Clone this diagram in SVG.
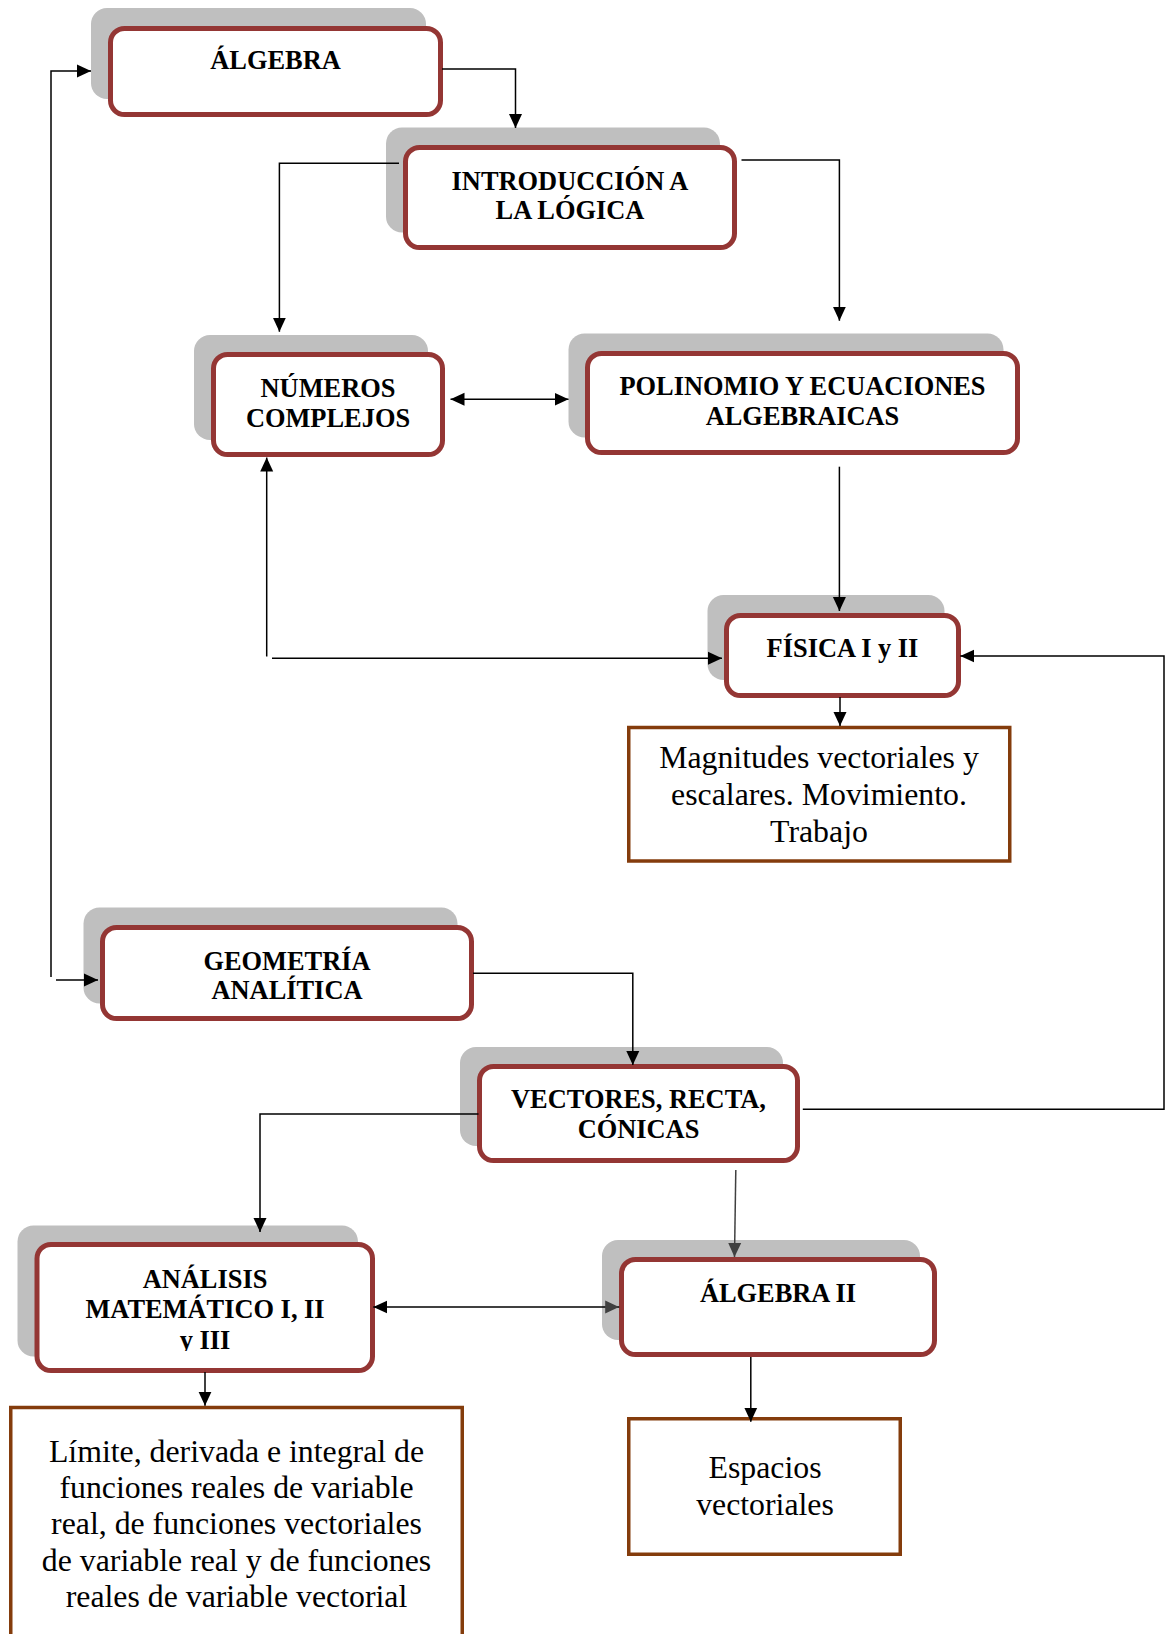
<svg xmlns="http://www.w3.org/2000/svg" width="1166" height="1634" viewBox="0 0 1166 1634">
<style>
.sh{fill:#BFBFBF;stroke:none}
.bx{fill:#FFFFFF;stroke:#943634;stroke-width:5}
.bb{fill:#FFFFFF;stroke:#843C0C;stroke-width:3.5}
.t{font-family:"Liberation Serif","Times New Roman",serif;font-weight:bold;font-size:26.4px;fill:#000;text-anchor:middle}
.n{font-family:"Liberation Serif","Times New Roman",serif;font-size:31.8px;fill:#000;text-anchor:middle}
.c{fill:none;stroke:#000;stroke-width:1.5}
.g{fill:none;stroke:#404040;stroke-width:1.5}
</style>
<defs>
<marker id="ah" viewBox="0 0 14 14" markerUnits="userSpaceOnUse" markerWidth="14" markerHeight="14" refX="14" refY="7" orient="auto-start-reverse">
<path d="M0,0.5 L14,7 L0,13.5 z" fill="#000"/>
</marker>
<marker id="ahg" viewBox="0 0 14 14" markerUnits="userSpaceOnUse" markerWidth="14" markerHeight="14" refX="14" refY="7" orient="auto-start-reverse">
<path d="M0,0.5 L14,7 L0,13.5 z" fill="#404040"/>
</marker>
<clipPath id="clipAn"><rect x="0" y="1200" width="400" height="151"/></clipPath>
</defs>

<g id="algebra">
<rect class="sh" x="91" y="8" width="335" height="91" rx="16"/>
<rect class="bx" x="110.5" y="28.5" width="330" height="86" rx="14"/>
<text class="t" x="275.5" y="69">ÁLGEBRA</text>
</g>

<g id="intro-logica">
<rect class="sh" x="386" y="127.5" width="334" height="105" rx="16"/>
<rect class="bx" x="405.5" y="147.5" width="329" height="100" rx="14"/>
<text class="t" x="570" y="190">INTRODUCCIÓN A</text>
<text class="t" x="570" y="219.3">LA LÓGICA</text>
</g>

<g id="numeros-complejos">
<rect class="sh" x="194" y="335" width="234" height="105" rx="16"/>
<rect class="bx" x="213.5" y="354.5" width="229" height="100" rx="14"/>
<text class="t" x="328" y="396.7">NÚMEROS</text>
<text class="t" x="328" y="426.7">COMPLEJOS</text>
</g>

<g id="polinomio">
<rect class="sh" x="568.5" y="333.5" width="435" height="104" rx="16"/>
<rect class="bx" x="587.5" y="353.5" width="430" height="99" rx="14"/>
<text class="t" x="802.5" y="395">POLINOMIO Y ECUACIONES</text>
<text class="t" x="802.5" y="425">ALGEBRAICAS</text>
</g>

<g id="fisica">
<rect class="sh" x="707.5" y="595" width="237" height="85" rx="16"/>
<rect class="bx" x="726.5" y="615.5" width="232" height="80" rx="14"/>
<text class="t" x="842.5" y="656.7">FÍSICA I y II</text>
</g>

<g id="magnitudes">
<rect class="bb" x="628.75" y="727.5" width="381" height="133.5"/>
<text class="n" x="819" y="768.3">Magnitudes vectoriales y</text>
<text class="n" x="819" y="805">escalares. Movimiento.</text>
<text class="n" x="819" y="841.7">Trabajo</text>
</g>

<g id="geometria">
<rect class="sh" x="83.5" y="907.5" width="374" height="96" rx="16"/>
<rect class="bx" x="102.5" y="927.5" width="369" height="91" rx="14"/>
<text class="t" x="287" y="970">GEOMETRÍA</text>
<text class="t" x="287" y="999.3">ANALÍTICA</text>
</g>

<g id="vectores">
<rect class="sh" x="460" y="1047" width="323" height="99" rx="16"/>
<rect class="bx" x="479.5" y="1066.5" width="318" height="94" rx="14"/>
<text class="t" x="638.5" y="1108.3">VECTORES, RECTA,</text>
<text class="t" x="638.5" y="1138.3">CÓNICAS</text>
</g>

<g id="analisis">
<rect class="sh" x="17.5" y="1225.5" width="340.5" height="131" rx="16"/>
<rect class="bx" x="37" y="1244.5" width="335.5" height="126" rx="14"/>
<text class="t" x="205" y="1288.3">ANÁLISIS</text>
<text class="t" x="205" y="1318.3">MATEMÁTICO I, II</text>
<text class="t" x="205" y="1349" clip-path="url(#clipAn)">y III</text>
</g>

<g id="algebra-ii">
<rect class="sh" x="602" y="1240" width="318" height="100" rx="16"/>
<rect class="bx" x="621.5" y="1259.5" width="313" height="95" rx="14"/>
<text class="t" x="778" y="1301.7">ÁLGEBRA II</text>
</g>

<g id="espacios">
<rect class="bb" x="628.75" y="1418.75" width="271.5" height="135.5"/>
<text class="n" x="765" y="1478.3">Espacios</text>
<text class="n" x="765" y="1515">vectoriales</text>
</g>

<g id="limite">
<rect class="bb" x="10.75" y="1407.5" width="451.5" height="240"/>
<text class="n" x="236.5" y="1461.7">Límite, derivada e integral de</text>
<text class="n" x="236.5" y="1497.7">funciones reales de variable</text>
<text class="n" x="236.5" y="1534.3">real, de funciones vectoriales</text>
<text class="n" x="236.5" y="1571">de variable real y de funciones</text>
<text class="n" x="236.5" y="1607.3">reales de variable vectorial</text>
</g>

<g id="connectors">
<path class="c" d="M442,69 H515.5 V128" marker-end="url(#ah)"/>
<path class="c" d="M399,163.3 H279.4 V331.7" marker-end="url(#ah)"/>
<path class="c" d="M741.5,160 H839.4 V320.7" marker-end="url(#ah)"/>
<path class="c" d="M450.5,399.2 H568.5" marker-start="url(#ah)" marker-end="url(#ah)"/>
<path class="c" d="M839.4,466.7 V611" marker-end="url(#ah)"/>
<path class="c" d="M266.7,656.5 V457.5" marker-end="url(#ah)"/>
<path class="c" d="M272,658.3 H722" marker-end="url(#ah)"/>
<path class="c" d="M840,697 V726" marker-end="url(#ah)"/>
<path class="c" d="M802.8,1109.3 H1164 V656 H960.3" marker-end="url(#ah)"/>
<path class="c" d="M51,977 V71 H91" marker-end="url(#ah)"/>
<path class="c" d="M56,980 H98" marker-end="url(#ah)"/>
<path class="c" d="M473,973.3 H632.8 V1065" marker-end="url(#ah)"/>
<path class="c" d="M478.5,1114 H260 V1232" marker-end="url(#ah)"/>
<path class="g" d="M735.8,1170 L734.5,1257" marker-end="url(#ahg)"/>
<path class="c" d="M373.3,1307 H619.2" marker-start="url(#ah)" marker-end="url(#ahg)"/>
<path class="c" d="M205,1372 V1405.7" marker-end="url(#ah)"/>
<path class="c" d="M750.8,1357 V1421.7" marker-end="url(#ah)"/>
</g>
</svg>
